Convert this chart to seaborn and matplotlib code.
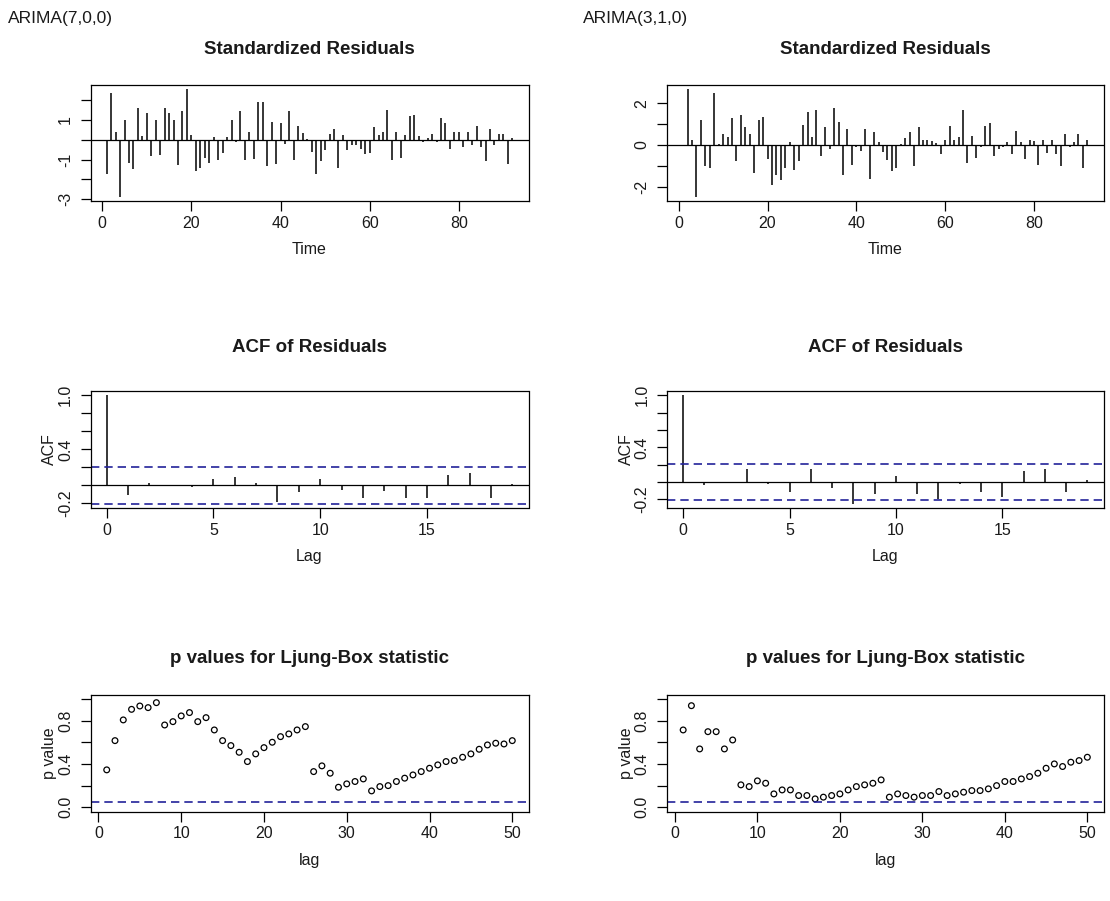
import numpy as np
import pandas as pd
import matplotlib
matplotlib.use("Agg")
import matplotlib.pyplot as plt
import seaborn as sns

# ---------------- data ----------------
models = ["ARIMA(7,0,0)", "ARIMA(3,1,0)"]

time_idx = list(range(1, 93))
resid_700 = [-1.70, 2.38, 0.38, -2.87, 1.00, -1.17, -1.48, 1.60, 0.17, 1.35,
             -0.82, 1.00, -0.75, 1.60, 1.33, 1.00, -1.25, 1.43, 2.55, 0.22,
             -1.58, -1.42, -0.90, -1.17, 0.13, -1.00, -0.65, 0.13, 1.00, -0.12,
             1.43, -1.00, 0.42, -0.98, 1.93, 1.93, -1.33, 0.92, -1.20, 0.83,
             -0.20, 1.43, -1.00, 0.72, 0.33, 0.05, -0.62, -1.70, -1.08, -0.53,
             0.30, 0.55, -1.42, 0.22, -0.53, -0.28, -0.28, -0.45, -0.70, -0.65,
             0.63, 0.22, 0.38, 1.52, -1.00, 0.38, -0.90, 0.22, 1.18, 1.25,
             0.18, -0.12, 0.10, 0.30, -0.12, 1.08, 0.83, -0.45, 0.38, 0.38,
             -0.37, 0.42, -0.28, 0.72, -0.37, -1.08, 0.55, -0.28, 0.30, 0.30,
             -1.20, 0.10]
resid_310 = [0.00, 2.67, 0.25, -2.49, 1.19, -1.03, -1.11, 2.51, 0.05, 0.52,
             0.37, 1.27, -0.78, 1.43, 0.84, 0.52, -1.35, 1.19, 1.35, -0.70,
             -1.94, -1.43, -1.67, -1.11, 0.13, -1.19, -0.78, 0.95, 1.60, 0.37,
             1.68, -0.54, 0.84, -0.22, 1.75, 1.11, -1.46, 0.76, -0.95, -0.11,
             -0.30, 0.76, -1.62, 0.60, 0.13, -0.36, -0.75, -1.27, -1.11, 0.03,
             0.33, 0.60, -1.03, 0.84, 0.25, 0.25, 0.17, 0.10, -0.46, 0.25,
             0.92, 0.25, 0.37, 1.68, -0.86, 0.41, -0.62, -0.11, 0.92, 1.03,
             -0.54, -0.19, -0.11, 0.13, -0.46, 0.68, 0.13, -0.70, 0.25, 0.21,
             -0.95, 0.25, -0.38, 0.25, -0.46, -1.03, 0.52, -0.11, 0.13, 0.52,
             -1.11, 0.25]

acf_lags = list(range(0, 20))
acf_700 = [1.0, -0.11, 0.026, 0.005, -0.02, 0.066, 0.088, 0.026, -0.19, -0.074,
           0.066, -0.055, -0.14, -0.062, -0.14, -0.14, 0.12, 0.136, -0.14, 0.01]
acf_310 = [1.0, -0.038, 0.0, 0.154, -0.027, -0.115, 0.154, -0.065, -0.25, -0.135,
           0.07, -0.135, -0.20, -0.027, -0.115, -0.173, 0.127, 0.154, -0.115, 0.023]
acf_conf = 0.204

lb_lags = list(range(1, 51))
pval_700 = [0.346, 0.617, 0.809, 0.907, 0.938, 0.923, 0.969, 0.762, 0.793, 0.846,
            0.877, 0.793, 0.830, 0.716, 0.617, 0.571, 0.509, 0.423, 0.494, 0.552,
            0.602, 0.654, 0.679, 0.716, 0.747, 0.330, 0.383, 0.315, 0.185, 0.216,
            0.238, 0.262, 0.151, 0.191, 0.200, 0.238, 0.269, 0.299, 0.330, 0.361,
            0.392, 0.423, 0.432, 0.463, 0.494, 0.537, 0.577, 0.593, 0.586, 0.617]
pval_310 = [0.716, 0.941, 0.540, 0.700, 0.700, 0.540, 0.623, 0.207, 0.191, 0.244,
            0.222, 0.123, 0.160, 0.160, 0.108, 0.108, 0.077, 0.093, 0.108, 0.123,
            0.160, 0.191, 0.207, 0.222, 0.253, 0.093, 0.123, 0.108, 0.093, 0.108,
            0.108, 0.145, 0.108, 0.123, 0.139, 0.154, 0.154, 0.170, 0.200, 0.238,
            0.238, 0.262, 0.284, 0.315, 0.361, 0.401, 0.377, 0.417, 0.432, 0.463]
pval_ref = 0.05

resid_ticks = [[-3, -2, -1, 0, 1, 2], [-2, -1, 0, 1, 2]]
resid_ticklabels = [["-3", "", "-1", "", "1", ""], ["-2", "", "0", "", "2"]]
acf_ticks = [-0.2, 0.0, 0.2, 0.4, 0.6, 0.8, 1.0]
acf_ticklabels = ["-0.2", "", "", "0.4", "", "", "1.0"]
p_ticks = [0.0, 0.2, 0.4, 0.6, 0.8, 1.0]
p_ticklabels = ["0.0", "", "0.4", "", "0.8", ""]

# ---------------- style ----------------
sns.set_theme(style="white")
plt.rcParams['font.family'] = ['Liberation Sans', 'DejaVu Sans']

W, H = 1110, 901
fig = plt.figure(figsize=(W / 100, H / 100), dpi=100)

cols = [(90.5, 528.5), (667.0, 1103.5)]
rows = [(85.0, 201.0), (391.0, 508.0), (695.0, 811.5)]
BLUE = "#23239a"
TXT = "#1a1a1a"


def make_ax(r, c):
    l, rgt = cols[c]
    t, b = rows[r]
    return fig.add_axes([l / W, 1 - b / H, (rgt - l) / W, (b - t) / H])


def pad_lim(lo, hi):
    d = hi - lo
    return lo - 0.04 * d, hi + 0.04 * d


def style(ax, xticks, yticks, yticklabels, title, title_pad, xlabel, ylabel):
    for s in ax.spines.values():
        s.set_visible(True)
        s.set_color("black")
        s.set_linewidth(0.9)
    ax.set_xticks(xticks)
    ax.set_xticklabels([str(v) for v in xticks])
    ax.set_yticks(yticks)
    ax.set_yticklabels(yticklabels, rotation=90, va="center")
    ax.tick_params(axis="both", direction="out", length=7.5, width=0.9,
                   color="black", labelsize=11.5, labelcolor=TXT,
                   bottom=True, left=True, top=False, right=False)
    ax.tick_params(axis="x", pad=3)
    ax.tick_params(axis="y", pad=5)
    ax.set_title(title, fontsize=13.5, fontweight="bold", color=TXT, pad=title_pad)
    ax.set_xlabel(xlabel, fontsize=11.5, color=TXT)
    ax.xaxis.set_label_coords(0.5, -49.0 / (ax.bbox.height))
    ax.xaxis.label.set_va("center")
    if ylabel:
        ax.set_ylabel(ylabel, fontsize=11.5, color=TXT)
        ax.yaxis.set_label_coords(-41.0 / ax.bbox.width, 0.5)
        ax.yaxis.label.set_va("center")
    ax.grid(False)


resids = [resid_700, resid_310]
acfs = [acf_700, acf_310]
pvals = [pval_700, pval_310]

for c in range(2):
    # --- standardized residuals ---
    ax = make_ax(0, c)
    r = resids[c]
    ax.vlines(time_idx, 0, r, color="black", linewidth=1.1)
    ax.axhline(0, color="black", linewidth=0.9)
    ax.set_xlim(*pad_lim(min(time_idx), max(time_idx)))
    ax.set_ylim(*pad_lim(min(r), max(r)))
    style(ax, [0, 20, 40, 60, 80], resid_ticks[c], resid_ticklabels[c],
          "Standardized Residuals", 22, "Time", None)

    # --- ACF of residuals ---
    ax = make_ax(1, c)
    a = acfs[c]
    ax.vlines(acf_lags, 0, a, color="black", linewidth=1.1)
    ax.axhline(0, color="black", linewidth=0.9)
    for lv in (acf_conf, -acf_conf):
        ax.axhline(lv, color=BLUE, linewidth=1.2, linestyle=(0, (5, 3)))
    ax.set_xlim(*pad_lim(min(acf_lags), max(acf_lags)))
    ax.set_ylim(*pad_lim(min(min(a), -acf_conf), max(max(a), acf_conf)))
    style(ax, [0, 5, 10, 15], acf_ticks, acf_ticklabels,
          "ACF of Residuals", 28, "Lag", "ACF")

    # --- Ljung-Box p values ---
    ax = make_ax(2, c)
    df = pd.DataFrame({"lag": lb_lags, "p": pvals[c]})
    sns.scatterplot(data=df, x="lag", y="p", ax=ax, s=17, marker="o",
                    facecolor="none", edgecolor="black", linewidth=0.9)
    ax.axhline(pval_ref, color=BLUE, linewidth=1.2, linestyle=(0, (5, 3)))
    ax.set_xlim(*pad_lim(min(lb_lags), max(lb_lags)))
    ax.set_ylim(*pad_lim(0, 1))
    style(ax, [0, 10, 20, 30, 40, 50], p_ticks, p_ticklabels,
          "p values for Ljung-Box statistic", 23, "lag", "p value")

fig.text(8 / W, 1 - 18 / H, models[0], fontsize=12.5, color=TXT, va="center", ha="left")
fig.text(583 / W, 1 - 18 / H, models[1], fontsize=12.5, color=TXT, va="center", ha="left")

fig.savefig("out.png", dpi=100, facecolor="white")
